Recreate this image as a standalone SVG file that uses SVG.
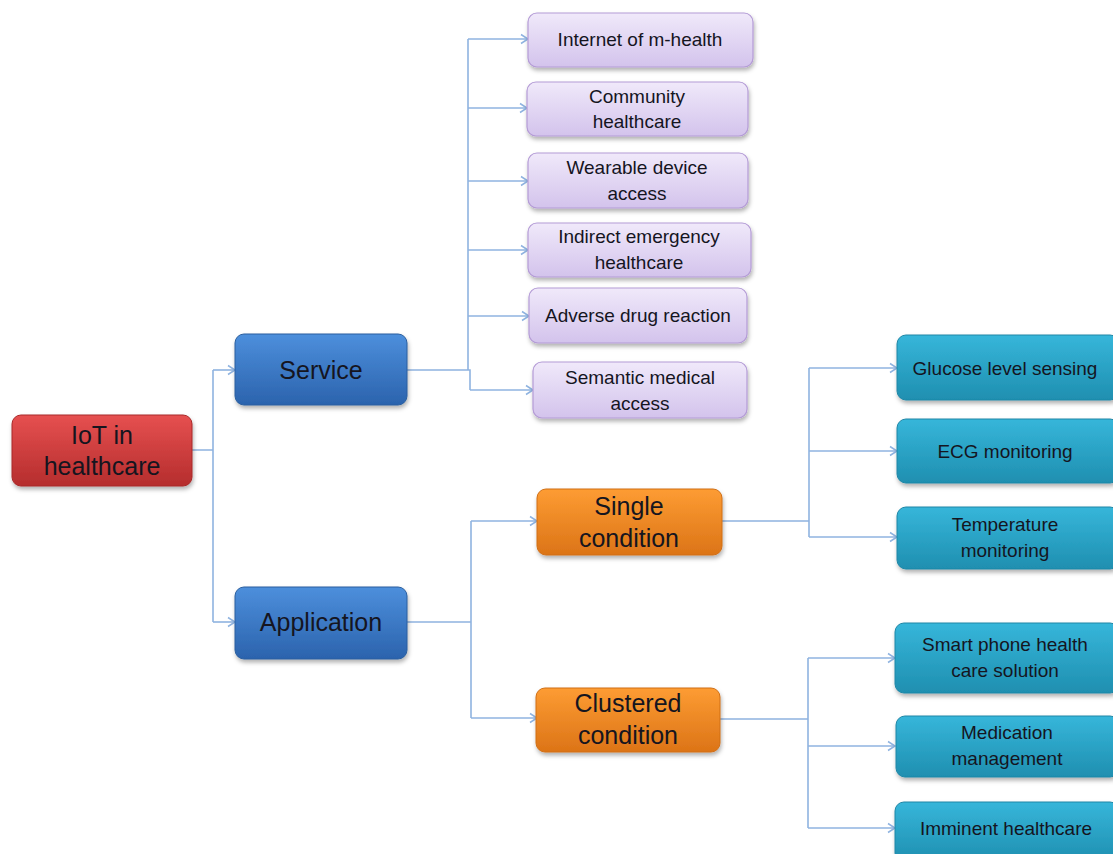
<svg xmlns="http://www.w3.org/2000/svg" width="1113" height="854" viewBox="0 0 1113 854">
<defs>
<linearGradient id="gRed" x1="0" y1="0" x2="0" y2="1"><stop offset="0" stop-color="#e65050"/><stop offset="1" stop-color="#b52d2d"/></linearGradient>
<linearGradient id="gBlue" x1="0" y1="0" x2="0" y2="1"><stop offset="0" stop-color="#4d8fdc"/><stop offset="1" stop-color="#2b63ad"/></linearGradient>
<linearGradient id="gPurple" x1="0" y1="0" x2="0" y2="1"><stop offset="0" stop-color="#f0e9fa"/><stop offset="1" stop-color="#d3c3ec"/></linearGradient>
<linearGradient id="gOrange" x1="0" y1="0" x2="0" y2="1"><stop offset="0" stop-color="#fd9c33"/><stop offset="1" stop-color="#dc7417"/></linearGradient>
<linearGradient id="gTeal" x1="0" y1="0" x2="0" y2="1"><stop offset="0" stop-color="#36b6da"/><stop offset="1" stop-color="#1f8fb0"/></linearGradient>
<filter id="sh" x="-10%" y="-20%" width="125%" height="150%"><feDropShadow dx="1" dy="3" stdDeviation="2" flood-color="#000" flood-opacity="0.3"/></filter>
<marker id="arr" markerWidth="12" markerHeight="12" refX="10" refY="6" orient="auto" markerUnits="userSpaceOnUse"><path d="M3,1.5 L10,6 L3,10.5" fill="none" stroke="#8fb3e0" stroke-width="1.5"/></marker>
</defs>
<style>
.c{fill:none;stroke:#8fb3e0;stroke-width:1.6}
.a{marker-end:url(#arr)}
.red{fill:url(#gRed);stroke:#a82828;stroke-width:1}
.blue{fill:url(#gBlue);stroke:#2a5e9e;stroke-width:1}
.pur{fill:url(#gPurple);stroke:#b49bd6;stroke-width:1.2}
.org{fill:url(#gOrange);stroke:#d06e14;stroke-width:1}
.teal{fill:url(#gTeal);stroke:#1f86a6;stroke-width:1}
rect{filter:url(#sh)}
text{font-family:"Liberation Sans",Arial,sans-serif;fill:#15151f;text-anchor:middle}
.big{font-size:25px}
.sm{font-size:19px}
</style>
<rect width="1113" height="854" fill="#ffffff" style="filter:none"/>
<g id="connectors">
<path class="c" d="M192,450 H213 M213,370 V622"/>
<path class="c a" d="M213,370 H235"/>
<path class="c a" d="M213,622 H235"/>
<path class="c" d="M407,370 H468 M468,39 V370 M468,370 H470 V390"/>
<path class="c a" d="M468,39 H528"/>
<path class="c a" d="M468,108 H527"/>
<path class="c a" d="M468,181 H528"/>
<path class="c a" d="M468,250 H528"/>
<path class="c a" d="M468,316 H529"/>
<path class="c a" d="M470,390 H533"/>
<path class="c" d="M407,622 H471 M471,521 V718"/>
<path class="c a" d="M471,521 H537"/>
<path class="c a" d="M471,718 H537"/>
<path class="c" d="M722,521 H809 M809,368 V537"/>
<path class="c a" d="M809,368 H897"/>
<path class="c a" d="M809,451 H897"/>
<path class="c a" d="M809,537 H897"/>
<path class="c" d="M720,719 H808 M808,658 V828"/>
<path class="c a" d="M808,658 H895"/>
<path class="c a" d="M808,746 H895"/>
<path class="c a" d="M808,828 H895"/>
</g>
<g id="iot"><rect class="red" x="12" y="415" width="180" height="71" rx="9"/><text class="big" x="102" y="444">IoT in</text><text class="big" x="102" y="475">healthcare</text></g>
<g id="service"><rect class="blue" x="235" y="334" width="172" height="71" rx="9"/><text class="big" x="321" y="379">Service</text></g>
<g id="application"><rect class="blue" x="235" y="587" width="172" height="72" rx="9"/><text class="big" x="321" y="631">Application</text></g>
<g id="s1"><rect class="pur" x="528" y="13" width="225" height="54" rx="9"/><text class="sm" x="640" y="46">Internet of m-health</text></g>
<g id="s2"><rect class="pur" x="527" y="82" width="221" height="54" rx="9"/><text class="sm" x="637" y="103">Community</text><text class="sm" x="637" y="128">healthcare</text></g>
<g id="s3"><rect class="pur" x="528" y="153" width="220" height="55" rx="9"/><text class="sm" x="637" y="174">Wearable device</text><text class="sm" x="637" y="200">access</text></g>
<g id="s4"><rect class="pur" x="528" y="223" width="223" height="54" rx="9"/><text class="sm" x="639" y="243">Indirect emergency</text><text class="sm" x="639" y="269">healthcare</text></g>
<g id="s5"><rect class="pur" x="529" y="288" width="218" height="55" rx="9"/><text class="sm" x="638" y="322">Adverse drug reaction</text></g>
<g id="s6"><rect class="pur" x="533" y="362" width="214" height="56" rx="9"/><text class="sm" x="640" y="384">Semantic medical</text><text class="sm" x="640" y="410">access</text></g>
<g id="single"><rect class="org" x="537" y="489" width="185" height="66" rx="9"/><text class="big" x="629" y="515">Single</text><text class="big" x="629" y="547">condition</text></g>
<g id="clustered"><rect class="org" x="536" y="688" width="184" height="64" rx="9"/><text class="big" x="628" y="712">Clustered</text><text class="big" x="628" y="744">condition</text></g>
<g id="a1"><rect class="teal" x="897" y="335" width="222" height="65" rx="9"/><text class="sm" x="1005" y="375">Glucose level sensing</text></g>
<g id="a2"><rect class="teal" x="897" y="419" width="222" height="64" rx="9"/><text class="sm" x="1005" y="458">ECG monitoring</text></g>
<g id="a3"><rect class="teal" x="897" y="507" width="222" height="62" rx="9"/><text class="sm" x="1005" y="531">Temperature</text><text class="sm" x="1005" y="557">monitoring</text></g>
<g id="b1"><rect class="teal" x="895" y="623" width="224" height="70" rx="9"/><text class="sm" x="1005" y="651">Smart phone health</text><text class="sm" x="1005" y="677">care solution</text></g>
<g id="b2"><rect class="teal" x="896" y="716" width="223" height="61" rx="9"/><text class="sm" x="1007" y="739">Medication</text><text class="sm" x="1007" y="765">management</text></g>
<g id="b3"><rect class="teal" x="895" y="802" width="224" height="60" rx="9"/><text class="sm" x="1006" y="835">Imminent healthcare</text></g>
</svg>
